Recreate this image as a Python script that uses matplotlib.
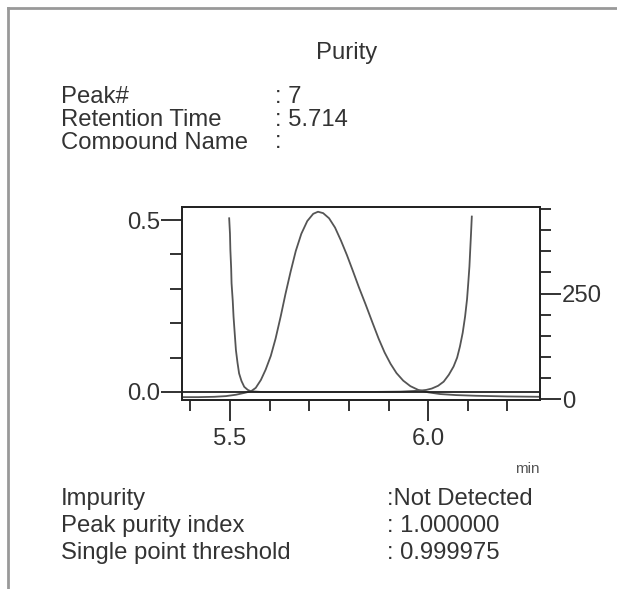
import matplotlib
matplotlib.use("Agg")
import matplotlib.pyplot as plt
from matplotlib.lines import Line2D
from matplotlib.transforms import Bbox

plt.rcParams['font.family'] = ['Liberation Sans', 'DejaVu Sans']

# chromatogram (left scale)
chrom_t = [5.379, 5.42, 5.46, 5.49, 5.515, 5.535, 5.553, 5.565, 5.578, 5.59,
           5.603, 5.615, 5.628, 5.64, 5.653, 5.666, 5.68, 5.695, 5.71, 5.722,
           5.735, 5.75, 5.765, 5.78, 5.795, 5.81, 5.825, 5.842, 5.86, 5.875,
           5.89, 5.905, 5.92, 5.937, 5.955, 5.975, 6.0, 6.03, 6.07, 6.12,
           6.2, 6.282]
chrom_v = [-0.015, -0.015, -0.014, -0.012, -0.008, -0.003, 0.002, 0.012, 0.035, 0.065,
           0.105, 0.155, 0.22, 0.285, 0.35, 0.41, 0.46, 0.497, 0.518, 0.524,
           0.52, 0.505, 0.478, 0.44, 0.398, 0.352, 0.305, 0.255, 0.2, 0.155,
           0.115, 0.082, 0.055, 0.033, 0.017, 0.006, -0.001, -0.006, -0.009, -0.011,
           -0.013, -0.014]

# purity curve
pur_t = [5.498, 5.5, 5.501, 5.503, 5.504, 5.507, 5.509, 5.512, 5.515, 5.519,
         5.523, 5.529, 5.536, 5.545, 5.553, 5.58, 5.65, 5.75, 5.85, 5.93,
         5.965, 5.98, 5.995, 6.009, 6.025, 6.039, 6.052, 6.064, 6.073, 6.08,
         6.087, 6.093, 6.098, 6.101, 6.104, 6.106, 6.108, 6.11]
pur_v = [0.505, 0.46, 0.413, 0.36, 0.316, 0.265, 0.219, 0.17, 0.122, 0.085,
         0.054, 0.032, 0.015, 0.006, 0.002, 0.0, 0.0, 0.0, 0.0, 0.001,
         0.003, 0.004, 0.006, 0.01, 0.018, 0.03, 0.05, 0.074, 0.1, 0.132,
         0.172, 0.219, 0.27, 0.316, 0.365, 0.413, 0.46, 0.51]

header_labels = ['Peak#', 'Retention Time', 'Compound Name']
header_values = [': 7', ': 5.714', ':']
footer_labels = ['Impurity', 'Peak purity index', 'Single point threshold']
footer_values = [':Not Detected', ': 1.000000', ': 0.999975']

W, H = 617, 589
fig = plt.figure(figsize=(W / 100, H / 100), dpi=100)
tc = '#333333'
fs = 17.2

# outer frame (only left and top visible)
fig.add_artist(Line2D([8 / W, 8 / W], [0, 1 - 8 / H], transform=fig.transFigure, color='#999999', lw=2))
fig.add_artist(Line2D([8 / W, 1], [1 - 8 / H, 1 - 8 / H], transform=fig.transFigure, color='#999999', lw=2))

def fy(px):
    return 1 - px / H

fig.text(347 / W, fy(59), 'Purity', ha='center', va='baseline', fontsize=fs, color=tc)

ybase = [103, 126, 148.5]
for i in range(3):
    t1 = fig.text(61 / W, fy(ybase[i]), header_labels[i], va='baseline', fontsize=fs, color=tc)
    t2 = fig.text(275 / W, fy(ybase[i]), header_values[i], va='baseline', fontsize=fs, color=tc)
    if i == 2:
        clip = Bbox.from_extents(0, H - 149, W, H)
        t1.set_clip_box(clip); t1.set_clip_on(True)
        t2.set_clip_box(clip); t2.set_clip_on(True)

fbase = [505, 532, 559]
for i in range(3):
    fig.text(61 / W, fy(fbase[i]), footer_labels[i], va='baseline', fontsize=fs, color=tc)
    fig.text(387 / W, fy(fbase[i]), footer_values[i], va='baseline', fontsize=fs, color=tc)

fig.text(540 / W, fy(473), 'min', ha='right', va='baseline', fontsize=11, color='#555555')

ax = fig.add_axes([182 / W, 1 - 400 / H, (540 - 182) / W, (400 - 207) / H])
ax.plot(chrom_t, chrom_v, color='#555555', lw=1.3)
ax.plot(pur_t, pur_v, color='#555555', lw=1.3)
ax.axhline(0, color='#222222', lw=1.3)

ax.set_xlim(5.379, 6.282)
ax.set_ylim(-0.0233, 0.5378)
ax.set_xticks([5.5, 6.0])
ax.set_xticklabels(['5.5', '6.0'])
ax.set_xticks([5.4, 5.6, 5.7, 5.8, 5.9, 6.1, 6.2], minor=True)
ax.set_yticks([0.0, 0.5])
ax.set_yticklabels(['0.0', '0.5'])
ax.set_yticks([0.1, 0.2, 0.3, 0.4], minor=True)
ax.tick_params(axis='x', which='major', length=15, width=1.3, pad=5, labelsize=fs, colors='#222222', labelcolor=tc)
ax.tick_params(axis='x', which='minor', length=8, width=1.3, colors='#222222')
ax.tick_params(axis='y', which='major', length=15, width=1.3, pad=1, labelsize=fs, colors='#222222', labelcolor=tc)
ax.tick_params(axis='y', which='minor', length=9, width=1.3, colors='#222222')

ax2 = ax.twinx()
ax2.set_ylim(-2, 455)
ax2.set_yticks([0, 250])
ax2.set_yticklabels(['0', '250'])
ax2.set_yticks([50, 100, 150, 200, 300, 350, 400, 450], minor=True)
ax2.tick_params(axis='y', which='major', length=15, width=1.3, pad=1, labelsize=fs, colors='#222222', labelcolor=tc)
ax2.tick_params(axis='y', which='minor', length=8, width=1.3, colors='#222222')

for a in (ax, ax2):
    for s in a.spines.values():
        s.set_linewidth(1.3)
        s.set_color('#222222')

fig.savefig('out.png', dpi=100)
